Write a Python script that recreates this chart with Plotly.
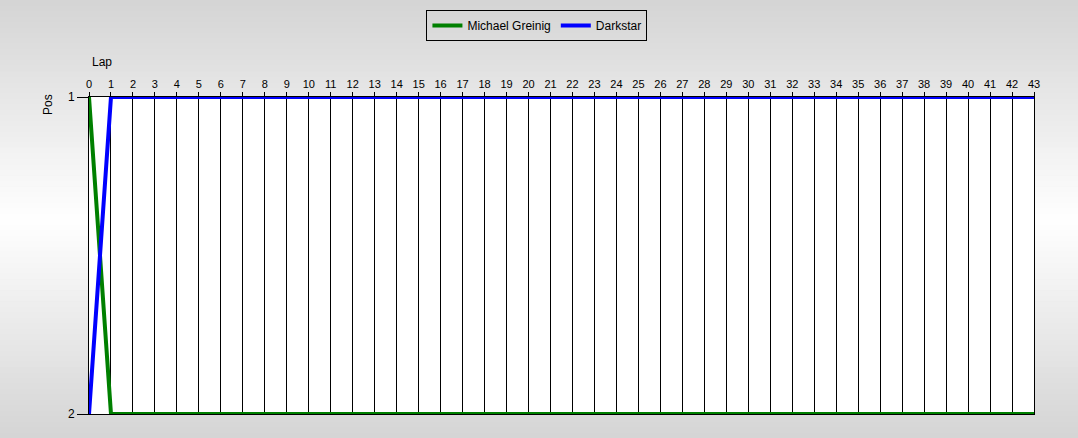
import plotly.graph_objects as go

laps = list(range(0, 44))
michael_pos = [1] + [2] * 43
darkstar_pos = [2] + [1] * 43
names = ["Michael Greinig", "Darkstar"]

W, H = 1078, 438
L, R, T, B = 89, 44, 97, 24
ph = H - T - B
pw = W - L - R

fig = go.Figure()

fig.add_trace(go.Scatter(x=laps, y=michael_pos, mode="lines", name=names[0],
                         line=dict(color="green", width=4)))
fig.add_trace(go.Scatter(x=laps, y=darkstar_pos, mode="lines", name=names[1],
                         line=dict(color="blue", width=4)))

# fondo degradado gris -> blanco -> gris
shapes = []
n = 80
y_top = 1 + T / ph
y_bot = -B / ph
span = y_top - y_bot
for i in range(n):
    f0 = i / n
    f1 = (i + 1) / n
    d = abs((f0 + f1) / 2 - 0.5) * 2
    c = int(round(255 - 43 * d))
    shapes.append(dict(type="rect", xref="paper", yref="paper", layer="below",
                       x0=-L / pw, x1=1 + R / pw,
                       y0=y_top - f1 * span - 0.002, y1=y_top - f0 * span,
                       line=dict(width=0), fillcolor=f"rgb({c},{c},{c})"))
shapes.append(dict(type="rect", xref="paper", yref="paper", layer="below",
                   x0=0, x1=1, y0=0, y1=1, line=dict(width=0), fillcolor="white"))

fig.update_layout(
    width=W, height=H,
    margin=dict(l=L, r=R, t=T, b=B, autoexpand=False),
    paper_bgcolor="#dcdcdc",
    plot_bgcolor="white",
    font=dict(family="Liberation Sans, Arial", size=12, color="black"),
    shapes=shapes,
    showlegend=True,
    legend=dict(orientation="h", x=0.474, xanchor="center", y=1 + (97 - 10) / ph, yanchor="top",
                bgcolor="rgba(0,0,0,0)", bordercolor="black", borderwidth=1,
                font=dict(size=12), itemwidth=30),
    xaxis=dict(side="top", range=[0, 43], tickmode="linear", tick0=0, dtick=1,
               showgrid=True, gridcolor="black", gridwidth=1, zeroline=False,
               showline=True, linecolor="black", linewidth=1, mirror=True,
               ticks="outside", ticklen=4, tickcolor="black", automargin=False,
               tickfont=dict(size=11)),
    yaxis=dict(range=[2, 1], tickvals=[1, 2], showgrid=False, zeroline=False,
               showline=True, linecolor="black", linewidth=1, mirror=True,
               ticks="outside", ticklen=11, tickcolor="black", automargin=False,
               tickfont=dict(size=12)),
    annotations=[
        dict(text="Lap", xref="paper", yref="paper", x=1 / pw, y=1 + (97 - 62) / ph,
             xanchor="left", yanchor="middle", showarrow=False, font=dict(size=12)),
        dict(text="Pos", xref="paper", yref="paper", x=-(89 - 48) / pw, y=1 - (105 - 97) / ph,
             xanchor="center", yanchor="middle", textangle=-90, showarrow=False,
             font=dict(size=12)),
    ],
)

fig.write_html("out.html", config={"displayModeBar": False},
               post_script="document.body.style.margin='0';")
